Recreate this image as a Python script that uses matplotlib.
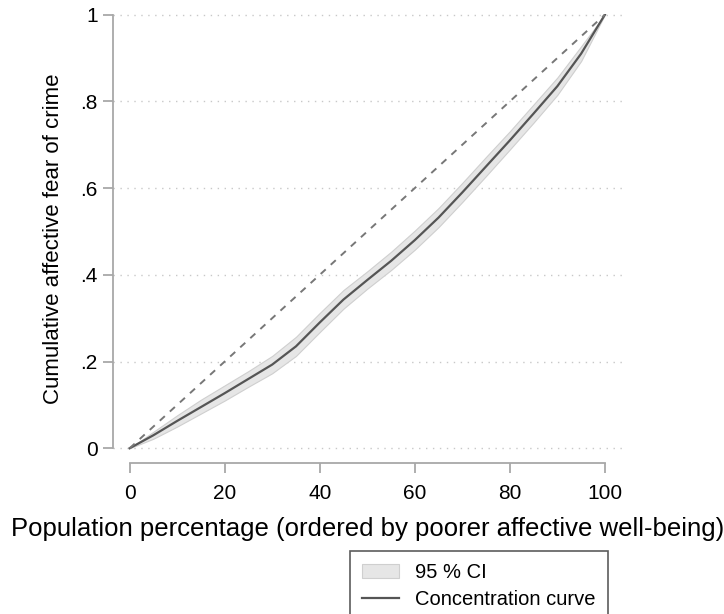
import numpy as np
import matplotlib.pyplot as plt

plt.rcParams['font.family'] = ['Liberation Sans', 'DejaVu Sans']

# population percentage and concentration curve
pop_pct = np.array([0, 5, 10, 15, 20, 25, 30, 35, 40, 45, 50,
                    55, 60, 65, 70, 75, 80, 85, 90, 95, 100])
conc = np.array([0, 0.030, 0.063, 0.095, 0.127, 0.160, 0.193, 0.235, 0.290, 0.343, 0.388,
                 0.432, 0.480, 0.532, 0.590, 0.650, 0.710, 0.772, 0.835, 0.910, 1.0])
ci_low = np.array([0, 0.022, 0.050, 0.080, 0.110, 0.142, 0.173, 0.213, 0.268, 0.322, 0.368,
                   0.411, 0.458, 0.510, 0.568, 0.628, 0.689, 0.751, 0.815, 0.893, 1.0])
ci_high = np.array([0, 0.038, 0.076, 0.112, 0.145, 0.178, 0.213, 0.257, 0.312, 0.365, 0.408,
                    0.453, 0.502, 0.554, 0.612, 0.672, 0.731, 0.793, 0.855, 0.927, 1.0])

xticks = [0, 20, 40, 60, 80, 100]
yticks = [0, 0.2, 0.4, 0.6, 0.8, 1]
ytick_labels = ['0', '.2', '.4', '.6', '.8', '1']

W, H = 724, 614
fig = plt.figure(figsize=(W / 100, H / 100), dpi=100)
ax = fig.add_axes([113 / W, (H - 463) / H, (622 - 113) / W, (463 - 14) / H])

ax.fill_between(pop_pct, ci_low, ci_high, facecolor='#e6e6e6', edgecolor='#cfcfcf',
                linewidth=0.8, label='95 % CI', zorder=2)
ax.plot(pop_pct, conc, color='#555555', linewidth=1.6, label='Concentration curve', zorder=3)
ax.plot([0, 100], [0, 1], color='#777777', linewidth=1.4, linestyle=(0, (3.5, 3.5)), zorder=3)

ax.set_xlim(-3.5, 103.6)
ax.set_ylim(-0.034, 1.0015)

for s in ['top', 'right']:
    ax.spines[s].set_visible(False)
for s in ['left', 'bottom']:
    ax.spines[s].set_color('#a8a8a8')
    ax.spines[s].set_linewidth(1.3)
ax.spines['left'].set_bounds(0, 1)
ax.spines['bottom'].set_bounds(0, 100)

ax.set_xticks(xticks)
ax.set_yticks(yticks)
ax.set_yticklabels(ytick_labels)
ax.tick_params(axis='both', direction='out', length=7, width=1.3, color='#a8a8a8',
               labelsize=15)
ax.tick_params(axis='x', pad=8)
ax.tick_params(axis='y', pad=4)
ax.yaxis.grid(True, color='#c8c8c8', linestyle=(0, (1, 4)), linewidth=1)
ax.set_axisbelow(True)

ax.set_xlabel('Population percentage (ordered by poorer affective well-being)',
              fontsize=18.5, labelpad=10)
ax.set_ylabel('Cumulative affective fear of crime', fontsize=16, labelpad=12)

leg = fig.legend(loc='upper left', bbox_to_anchor=(350 / W, (H - 551) / H), fontsize=14.5,
                 frameon=True, fancybox=False, handlelength=1.85, borderpad=0.6,
                 borderaxespad=0, labelspacing=0.4, handletextpad=0.8)
leg.get_frame().set_edgecolor('#333333')
leg.get_frame().set_linewidth(1.2)

fig.savefig('out.png', dpi=100)
